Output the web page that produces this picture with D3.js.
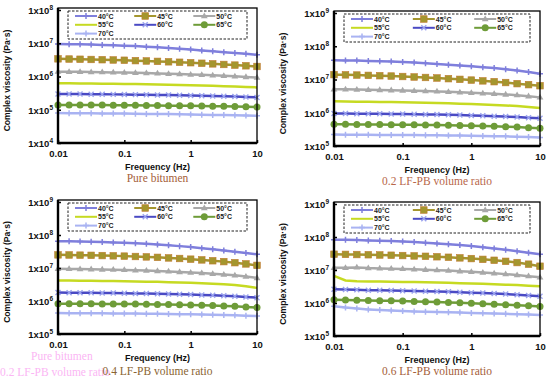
<!DOCTYPE html>
<html>
<head>
<meta charset="utf-8">
<script src="https://cdn.jsdelivr.net/npm/d3@7"></script>
<style>
  body { margin: 0; background: #fff; }
  svg { display: block; }
  text { font-family: "Liberation Sans", Arial, sans-serif; font-weight: bold; }
  text.serif { font-family: "Liberation Serif", serif; font-weight: normal; }
</style>
</head>
<body>
<svg id="chart" width="550" height="381"></svg>
<script>
// frequencies (Hz)
var freq = [0.01, 0.0147, 0.0215, 0.0316, 0.0464, 0.0681, 0.1, 0.147, 0.215, 0.316, 0.464, 0.681, 1, 1.47, 2.15, 3.16, 4.64, 6.81, 10]

var temps = ['40°C', '45°C', '50°C', '55°C', '60°C', '65°C', '70°C']
var colors = ['#7f7fdc', '#a4962e', '#a8a8a8', '#c6da22', '#4a4ac4', '#6e9c38', '#a9b3f2']
var markers = ['plus', 'square', 'triangle', 'none', 'cross', 'circle', 'plus']

var titles = ['Pure bitumen', '0.2 LF-PB volume ratio', '0.4 LF-PB volume ratio', '0.6 LF-PB volume ratio']
var yTicks1 = [1e4, 1e5, 1e6, 1e7, 1e8]
var yTicks2 = [1e5, 1e6, 1e7, 1e8, 1e9]
var xTicks = [0.01, 0.1, 1, 10]
var xTickLabels = ['0.01', '0.1', '1', '10']

// complex viscosity (Pa·s), pure bitumen
var pure = [
  [9.5e6, 9.4e6, 9.3e6, 9.1e6, 8.9e6, 8.7e6, 8.45e6, 8.2e6, 7.9e6, 7.6e6, 7.25e6, 6.85e6, 6.45e6, 6.1e6, 5.75e6, 5.4e6, 5.1e6, 4.8e6, 4.5e6],
  [3.4e6, 3.35e6, 3.3e6, 3.25e6, 3.2e6, 3.14e6, 3.08e6, 3.0e6, 2.93e6, 2.85e6, 2.77e6, 2.68e6, 2.6e6, 2.5e6, 2.4e6, 2.3e6, 2.2e6, 2.1e6, 2.0e6],
  [1.4e6, 1.39e6, 1.38e6, 1.36e6, 1.35e6, 1.33e6, 1.31e6, 1.29e6, 1.27e6, 1.24e6, 1.21e6, 1.18e6, 1.15e6, 1.12e6, 1.09e6, 1.05e6, 1.01e6, 9.7e5, 9.3e5],
  [6.3e5, 6.25e5, 6.2e5, 6.15e5, 6.1e5, 6.05e5, 6.0e5, 5.9e5, 5.85e5, 5.75e5, 5.65e5, 5.55e5, 5.45e5, 5.35e5, 5.25e5, 5.1e5, 5.0e5, 4.85e5, 4.7e5],
  [3.0e5, 2.98e5, 2.96e5, 2.94e5, 2.92e5, 2.9e5, 2.88e5, 2.85e5, 2.82e5, 2.79e5, 2.76e5, 2.72e5, 2.68e5, 2.64e5, 2.6e5, 2.55e5, 2.5e5, 2.42e5, 2.35e5],
  [1.4e5, 1.4e5, 1.39e5, 1.39e5, 1.38e5, 1.37e5, 1.37e5, 1.36e5, 1.35e5, 1.34e5, 1.33e5, 1.32e5, 1.31e5, 1.3e5, 1.28e5, 1.27e5, 1.25e5, 1.23e5, 1.2e5],
  [8.0e4, 7.9e4, 7.85e4, 7.8e4, 7.75e4, 7.7e4, 7.65e4, 7.6e4, 7.5e4, 7.45e4, 7.4e4, 7.3e4, 7.2e4, 7.1e4, 7.0e4, 6.9e4, 6.8e4, 6.7e4, 6.6e4]
]

// 0.2 LF-PB volume ratio
var ratio02 = [
  [3.8e7, 3.75e7, 3.7e7, 3.62e7, 3.55e7, 3.45e7, 3.35e7, 3.23e7, 3.1e7, 2.95e7, 2.8e7, 2.65e7, 2.5e7, 2.35e7, 2.2e7, 2.02e7, 1.85e7, 1.68e7, 1.5e7],
  [1.4e7, 1.38e7, 1.36e7, 1.33e7, 1.3e7, 1.27e7, 1.23e7, 1.19e7, 1.15e7, 1.11e7, 1.06e7, 1.01e7, 9.6e6, 9.1e6, 8.6e6, 8.1e6, 7.5e6, 7.0e6, 6.5e6],
  [5.1e6, 5.05e6, 5.0e6, 4.92e6, 4.85e6, 4.76e6, 4.68e6, 4.58e6, 4.48e6, 4.38e6, 4.26e6, 4.14e6, 4.0e6, 3.86e6, 3.7e6, 3.55e6, 3.38e6, 3.15e6, 2.9e6],
  [2.2e6, 2.18e6, 2.16e6, 2.14e6, 2.12e6, 2.09e6, 2.06e6, 2.03e6, 2.0e6, 1.96e6, 1.92e6, 1.88e6, 1.83e6, 1.78e6, 1.72e6, 1.66e6, 1.6e6, 1.5e6, 1.4e6],
  [9.5e5, 9.45e5, 9.4e5, 9.35e5, 9.3e5, 9.2e5, 9.1e5, 9.0e5, 8.9e5, 8.8e5, 8.65e5, 8.5e5, 8.3e5, 8.1e5, 7.9e5, 7.65e5, 7.4e5, 7.1e5, 6.8e5],
  [4.5e5, 4.48e5, 4.46e5, 4.44e5, 4.42e5, 4.39e5, 4.36e5, 4.33e5, 4.3e5, 4.25e5, 4.2e5, 4.15e5, 4.08e5, 4.0e5, 3.9e5, 3.8e5, 3.7e5, 3.55e5, 3.4e5],
  [2.2e5, 2.19e5, 2.18e5, 2.17e5, 2.16e5, 2.15e5, 2.14e5, 2.13e5, 2.12e5, 2.1e5, 2.08e5, 2.06e5, 2.03e5, 2.0e5, 1.98e5, 1.95e5, 1.9e5, 1.85e5, 1.8e5]
]

// 0.4 LF-PB volume ratio
var ratio04 = [
  [6.5e7, 6.45e7, 6.35e7, 6.25e7, 6.1e7, 5.95e7, 5.8e7, 5.6e7, 5.4e7, 5.15e7, 4.9e7, 4.6e7, 4.3e7, 4.0e7, 3.7e7, 3.4e7, 3.1e7, 2.85e7, 2.6e7],
  [2.5e7, 2.48e7, 2.45e7, 2.42e7, 2.38e7, 2.34e7, 2.29e7, 2.23e7, 2.17e7, 2.1e7, 2.02e7, 1.94e7, 1.85e7, 1.76e7, 1.66e7, 1.56e7, 1.45e7, 1.33e7, 1.2e7],
  [9.5e6, 9.4e6, 9.3e6, 9.2e6, 9.05e6, 8.9e6, 8.75e6, 8.55e6, 8.35e6, 8.15e6, 7.9e6, 7.6e6, 7.3e6, 7.0e6, 6.7e6, 6.35e6, 6.0e6, 5.5e6, 5.0e6],
  [4.2e6, 4.17e6, 4.14e6, 4.1e6, 4.06e6, 4.02e6, 3.97e6, 3.92e6, 3.86e6, 3.8e6, 3.72e6, 3.64e6, 3.55e6, 3.45e6, 3.33e6, 3.2e6, 3.05e6, 2.8e6, 2.5e6],
  [1.8e6, 1.79e6, 1.78e6, 1.77e6, 1.76e6, 1.74e6, 1.72e6, 1.7e6, 1.68e6, 1.66e6, 1.63e6, 1.6e6, 1.57e6, 1.53e6, 1.49e6, 1.45e6, 1.4e6, 1.33e6, 1.26e6],
  [8.3e5, 8.28e5, 8.25e5, 8.22e5, 8.18e5, 8.14e5, 8.1e5, 8.05e5, 8.0e5, 7.9e5, 7.8e5, 7.7e5, 7.6e5, 7.45e5, 7.3e5, 7.1e5, 6.9e5, 6.6e5, 6.3e5],
  [4.3e5, 4.28e5, 4.26e5, 4.24e5, 4.22e5, 4.2e5, 4.18e5, 4.15e5, 4.12e5, 4.09e5, 4.05e5, 4.0e5, 3.95e5, 3.9e5, 3.83e5, 3.76e5, 3.68e5, 3.6e5, 3.5e5]
]

// 0.6 LF-PB volume ratio
var ratio06 = [
  [8.3e7, 8.2e7, 8.05e7, 7.9e7, 7.7e7, 7.5e7, 7.25e7, 7.0e7, 6.7e7, 6.4e7, 6.05e7, 5.7e7, 5.3e7, 4.9e7, 4.5e7, 4.1e7, 3.7e7, 3.35e7, 3.0e7],
  [3.0e7, 2.97e7, 2.94e7, 2.9e7, 2.85e7, 2.8e7, 2.74e7, 2.67e7, 2.6e7, 2.52e7, 2.43e7, 2.33e7, 2.22e7, 2.1e7, 1.97e7, 1.83e7, 1.68e7, 1.5e7, 1.3e7],
  [1.17e7, 1.16e7, 1.2e7, 1.14e7, 1.12e7, 1.1e7, 1.08e7, 1.05e7, 1.02e7, 9.9e6, 9.6e6, 9.2e6, 8.8e6, 8.4e6, 7.95e6, 7.5e6, 7.0e6, 6.5e6, 6.0e6],
  [6.6e6, 4.8e6, 4.6e6, 4.5e6, 4.45e6, 4.4e6, 4.35e6, 4.3e6, 4.25e6, 4.2e6, 4.1e6, 4.0e6, 3.9e6, 3.8e6, 3.7e6, 3.6e6, 3.5e6, 3.35e6, 3.2e6],
  [2.6e6, 2.55e6, 2.5e6, 2.45e6, 2.42e6, 2.39e6, 2.36e6, 2.32e6, 2.28e6, 2.23e6, 2.18e6, 2.12e6, 2.06e6, 2.0e6, 1.93e6, 1.86e6, 1.78e6, 1.69e6, 1.6e6],
  [1.26e6, 1.24e6, 1.22e6, 1.2e6, 1.18e6, 1.16e6, 1.14e6, 1.12e6, 1.1e6, 1.07e6, 1.04e6, 1.01e6, 9.8e5, 9.5e5, 9.2e5, 8.9e5, 8.6e5, 8.25e5, 7.9e5],
  [8.0e5, 7.3e5, 6.8e5, 6.4e5, 6.1e5, 5.9e5, 5.7e5, 5.55e5, 5.45e5, 5.35e5, 5.25e5, 5.15e5, 5.0e5, 4.9e5, 4.8e5, 4.7e5, 4.6e5, 4.45e5, 4.3e5]
]

// layout of the four panels (plot area in px)
var panels = [
  { data: pure, ticks: yTicks1, left: 58, right: 257, top: 10, bottom: 143, titleY: 182, titleColor: '#a5603a' },
  { data: ratio02, ticks: yTicks2, left: 334, right: 540, top: 13, bottom: 146, titleY: 185, titleColor: '#b8674a' },
  { data: ratio04, ticks: yTicks2, left: 58, right: 257, top: 202, bottom: 334, titleY: 375, titleColor: '#8a6432' },
  { data: ratio06, ticks: yTicks2, left: 334, right: 540, top: 204, bottom: 336, titleY: 375, titleColor: '#a5603a' }
]

var svg = d3.select('#chart')

// faint ghost text visible in the source image
var ghost = svg.append('g').attr('fill', '#fbb6f4').attr('font-size', 11.5)
ghost.append('text').attr('class', 'serif').attr('x', 31).attr('y', 360).text('Pure bitumen')
ghost.append('text').attr('class', 'serif').attr('x', 0).attr('y', 376).text('0.2 LF-PB volume ratio')

function drawMarker (g, type, color, x, y) {
  if (type === 'plus') {
    g.append('path').attr('d', 'M' + (x - 3) + ',' + y + 'h6M' + x + ',' + (y - 3) + 'v6')
      .attr('stroke', color).attr('stroke-width', 1.5)
  } else if (type === 'cross') {
    g.append('path').attr('d', 'M' + (x - 2.5) + ',' + (y - 2.5) + 'l5,5M' + (x + 2.5) + ',' + (y - 2.5) + 'l-5,5')
      .attr('stroke', '#9aa2ee').attr('stroke-width', 1.4)
  } else if (type === 'square') {
    g.append('rect').attr('x', x - 3.3).attr('y', y - 3.3).attr('width', 6.6).attr('height', 6.6)
      .attr('fill', color).attr('stroke', '#c07a30').attr('stroke-width', 0.6)
  } else if (type === 'triangle') {
    g.append('path').attr('d', 'M' + x + ',' + (y - 3.6) + 'l3.4,5.8h-6.8z').attr('fill', color)
  } else if (type === 'circle') {
    g.append('circle').attr('cx', x).attr('cy', y).attr('r', 3.5).attr('fill', color)
  }
}

panels.forEach(function (p, pi) {
  var x = d3.scaleLog().domain([0.01, 10]).range([p.left, p.right])
  var y = d3.scaleLog().domain([p.ticks[0], p.ticks[p.ticks.length - 1]]).range([p.bottom, p.top])
  var g = svg.append('g')

  // series
  p.data.forEach(function (vals, si) {
    var pts = freq.map(function (f, i) { return [f, vals[i]] })
    var line = d3.line().x(function (d) { return x(d[0]) }).y(function (d) { return y(d[1]) })
    g.append('path').datum(pts).attr('d', line)
      .attr('fill', 'none').attr('stroke', colors[si]).attr('stroke-width', 2.5)
    pts.forEach(function (d) { drawMarker(g, markers[si], colors[si], x(d[0]), y(d[1])) })
  })

  // frame
  g.append('rect').attr('x', p.left).attr('y', p.top - 2).attr('width', p.right - p.left).attr('height', p.bottom - p.top + 2)
    .attr('fill', 'none').attr('stroke', '#000').attr('stroke-width', 1.3)
  g.append('path').attr('d', 'M' + p.left + ',' + (p.top - 2) + 'V' + p.bottom + 'H' + p.right)
    .attr('fill', 'none').attr('stroke', '#000').attr('stroke-width', 2.4)

  // x axis
  var xa = g.append('g').attr('transform', 'translate(0,' + p.bottom + ')')
    .call(d3.axisBottom(x).tickValues(xTicks).tickSize(-3).tickPadding(7)
      .tickFormat(function (d, i) { return xTickLabels[i] }))
  xa.select('.domain').remove()
  xa.selectAll('line').attr('stroke-width', 1.5)
  xa.selectAll('text').attr('font-size', 9.5).attr('fill', '#111')
    .style('font-family', '"Liberation Sans", Arial, sans-serif')

  // y axis
  var ya = g.append('g').attr('transform', 'translate(' + p.left + ',0)')
    .call(d3.axisLeft(y).tickValues(p.ticks).tickSize(-3).tickPadding(5).tickFormat(''))
  ya.select('.domain').remove()
  ya.selectAll('line').attr('stroke-width', 1.5)
  ya.selectAll('.tick').each(function (d) {
    var t = d3.select(this).append('text').attr('x', -5).attr('dy', '0.35em')
      .attr('text-anchor', 'end').attr('font-size', 9.5).attr('fill', '#111')
    t.append('tspan').text('1x10')
    t.append('tspan').attr('font-size', 6.5).attr('dy', '-0.6em').text(Math.round(Math.log10(d)))
  })

  // axis titles
  g.append('text').attr('x', (p.left + p.right) / 2).attr('y', p.bottom + 27)
    .attr('text-anchor', 'middle').attr('font-size', 9).attr('fill', '#111').text('Frequency (Hz)')
  var cy = (p.top + p.bottom) / 2 + 4
  g.append('text').attr('transform', 'translate(' + (p.left - 48) + ',' + cy + ') rotate(-90)')
    .attr('text-anchor', 'middle').attr('font-size', 8.6).attr('fill', '#111').text('Complex viscosity (Pa·s)')

  // panel title
  g.append('text').attr('class', 'serif').attr('x', (p.left + p.right) / 2).attr('y', p.titleY)
    .attr('text-anchor', 'middle').attr('font-size', 11.5).attr('fill', p.titleColor).text(titles[pi])

  // legend
  var lw = p.right - p.left - 20
  var lx = p.left + 10
  var ly = p.top + 1
  var lg = g.append('g')
  lg.append('rect').attr('x', lx).attr('y', ly).attr('width', lw).attr('height', 28)
    .attr('fill', '#fff').attr('stroke', '#222').attr('stroke-width', 1).attr('stroke-dasharray', '2.5,1.5')
  var colX = [7, lw * 0.37, lw * 0.7]
  temps.forEach(function (t, i) {
    var cx = lx + colX[i % 3]
    var ry = ly + 5 + Math.floor(i / 3) * 8.8
    lg.append('line').attr('x1', cx).attr('x2', cx + 22).attr('y1', ry).attr('y2', ry)
      .attr('stroke', colors[i]).attr('stroke-width', 2)
    drawMarker(lg, markers[i], colors[i], cx + 11, ry)
    lg.append('text').attr('x', cx + 23).attr('y', ry + 2.5).attr('font-size', 7).attr('fill', '#222').text(t)
  })
})
</script>
</body>
</html>
